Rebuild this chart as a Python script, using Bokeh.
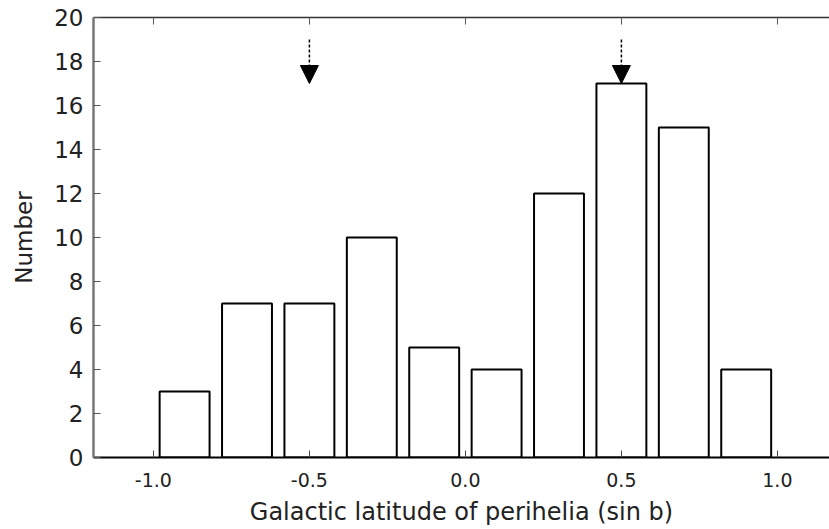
from bokeh.plotting import figure
from bokeh.models import Range1d, FixedTicker, LinearAxis, Arrow, NormalHead, CustomJSTickFormatter
from bokeh.embed import file_html
from bokeh.resources import INLINE

# Data
bin_centers = [-0.9, -0.7, -0.5, -0.3, -0.1, 0.1, 0.3, 0.5, 0.7, 0.9]
counts = [3, 7, 7, 10, 5, 4, 12, 17, 15, 4]
bar_width = 0.16
x_ticks = [-1.0, -0.5, 0.0, 0.5, 1.0]
y_ticks = [0, 2, 4, 6, 8, 10, 12, 14, 16, 18, 20]
arrow_x = [-0.5, 0.5]
arrow_y_start = [19.0, 19.0]
arrow_y_end = [17.0, 17.0]

FONT = "DejaVu Sans"

p = figure(width=829, height=529, output_backend="svg", toolbar_location=None,
           x_range=Range1d(-1.192, 1.167), y_range=Range1d(0, 20),
           min_border_left=93, min_border_top=17, min_border_bottom=72, min_border_right=0)
p.outline_line_color = None
p.xgrid.visible = False
p.ygrid.visible = False
p.background_fill_color = "white"
p.border_fill_color = "white"

p.vbar(x=bin_centers, top=counts, width=bar_width, bottom=0,
       fill_color="white", line_color="black", line_width=2)

for xa, y0, y1 in zip(arrow_x, arrow_y_start, arrow_y_end):
    p.add_layout(Arrow(end=NormalHead(size=18, fill_color="black", line_color="black"),
                       x_start=xa, y_start=y0, x_end=xa, y_end=y1,
                       line_color="black", line_width=1.5, line_dash="3 2"))

# bottom axis
xa_ = p.xaxis[0]
xa_.ticker = FixedTicker(ticks=x_ticks)
xa_.formatter = CustomJSTickFormatter(code="return tick.toFixed(1);")
xa_.minor_tick_line_color = None
xa_.major_tick_in = 7
xa_.major_tick_out = 0
xa_.major_tick_line_color = "#444444"
xa_.axis_line_color = "black"
xa_.axis_line_width = 2
xa_.major_label_text_font = FONT
xa_.major_label_text_font_size = "19px"
xa_.major_label_text_color = "#222222"
xa_.major_label_standoff = 15
xa_.axis_label = "Galactic latitude of perihelia (sin b)"
xa_.axis_label_text_font = FONT
xa_.axis_label_text_font_size = "24px"
xa_.axis_label_text_font_style = "normal"
xa_.axis_label_text_color = "#222222"
xa_.axis_label_standoff = 8

# left axis
ya = p.yaxis[0]
ya.ticker = FixedTicker(ticks=y_ticks)
ya.minor_tick_line_color = None
ya.major_tick_in = 7
ya.major_tick_out = 0
ya.major_tick_line_color = "#555555"
ya.axis_line_color = "#777777"
ya.axis_line_width = 2.5
ya.major_label_text_font = FONT
ya.major_label_text_font_size = "23px"
ya.major_label_text_color = "#222222"
ya.major_label_standoff = 10
ya.axis_label = "Number"
ya.axis_label_text_font = FONT
ya.axis_label_text_font_size = "23px"
ya.axis_label_text_font_style = "normal"
ya.axis_label_text_color = "#222222"
ya.axis_label_standoff = 14

# top axis (line + ticks only)
top = LinearAxis(ticker=FixedTicker(ticks=x_ticks),
                 formatter=CustomJSTickFormatter(code="return ''"))
top.minor_tick_line_color = None
top.major_tick_in = 7
top.major_tick_out = 0
top.major_tick_line_color = "#555555"
top.axis_line_color = "#333333"
top.axis_line_width = 1.5
top.major_label_text_font_size = "1px"
top.major_label_standoff = 0
p.add_layout(top, "above")

open("out.html", "w").write(file_html(p, INLINE))
